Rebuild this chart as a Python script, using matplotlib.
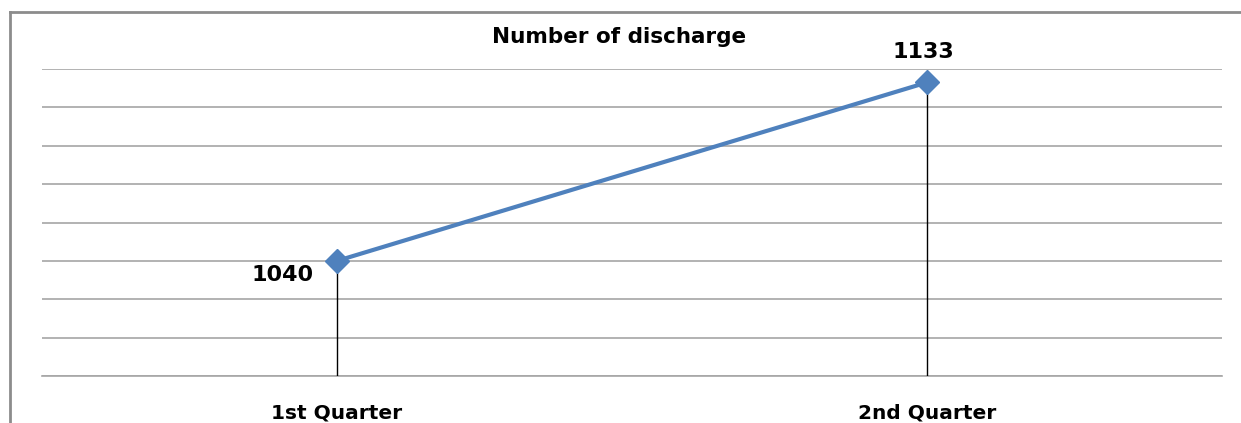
import matplotlib
matplotlib.use('Agg')
import matplotlib.pyplot as plt
from matplotlib.lines import Line2D

# data
quarters = ["1st Quarter", "2nd Quarter"]
discharges = [1040, 1133]
y_ticks = [980, 1000, 1020, 1040, 1060, 1080, 1100, 1120, 1140]

W, H = 1241, 423
fig = plt.figure(figsize=(W / 100, H / 100), dpi=100)
ax = fig.add_axes([42 / W, 1 - 376 / H, 1180 / W, (376 - 69) / H])

x = list(range(len(quarters)))
ax.plot(x, discharges, color="#4F81BD", lw=3, marker="D", ms=12,
        markeredgecolor="#4F81BD", zorder=4, clip_on=False)

# drop lines down to the axis
ax.vlines(x, y_ticks[0], discharges, color="black", lw=1, zorder=3)

# point labels, placed in pixel offsets from the points
ax.annotate(str(discharges[0]), (x[0], discharges[0]), xytext=(-23, -14),
            textcoords="offset pixels", ha="right", va="center",
            fontsize=16, fontweight="bold")
ax.annotate(str(discharges[1]), (x[1], discharges[1]), xytext=(-4, 30),
            textcoords="offset pixels", ha="center", va="center",
            fontsize=16, fontweight="bold")

ax.set_xlim(-0.5, 1.5)
ax.set_ylim(y_ticks[0], y_ticks[-1])
ax.set_yticks(y_ticks)
ax.set_yticklabels([])
ax.tick_params(axis="y", length=0)
ax.grid(axis="y", color="#a6a6a6", lw=1.2)
ax.set_xticks(x)
ax.set_xticklabels(quarters, fontsize=14.5, fontweight="bold")
ax.tick_params(axis="x", length=0, pad=20)
for s in ["top", "left", "right"]:
    ax.spines[s].set_visible(False)
ax.spines["bottom"].set_color("#a6a6a6")
ax.spines["bottom"].set_linewidth(1.2)
ax.set_axisbelow(True)

fig.text(619 / W, 1 - 37 / H, "Number of discharge", ha="center", va="center",
         fontsize=15.5, fontweight="bold")

# outer frame (left and top edges only)
fig.add_artist(Line2D([10 / W, 10 / W], [0, 1 - 12 / H], color="#8c8c8c", lw=2))
fig.add_artist(Line2D([10 / W, 1], [1 - 12 / H, 1 - 12 / H], color="#8c8c8c", lw=2))

fig.savefig("out.png", dpi=100)
